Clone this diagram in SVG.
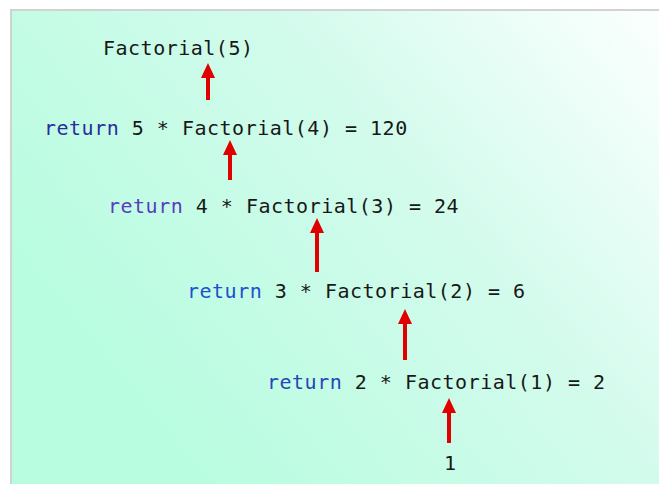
<svg xmlns="http://www.w3.org/2000/svg" width="659" height="484" viewBox="0 0 659 484">
  <defs>
    <linearGradient id="bg" gradientUnits="userSpaceOnUse" x1="150" y1="430" x2="650" y2="20">
      <stop offset="0" stop-color="#b8fde0"/>
      <stop offset="0.55" stop-color="#d2fbec"/>
      <stop offset="1" stop-color="#fafffd"/>
    </linearGradient>
    <marker id="head" viewBox="0 0 15 14" refX="1" refY="7" markerWidth="15" markerHeight="14" markerUnits="userSpaceOnUse" orient="auto">
      <path d="M0,0 L15,7 L0,14 z" fill="#e00000"/>
    </marker>
  </defs>
  <style>
    text { font-family: "DejaVu Sans Mono", "Liberation Mono", monospace; font-size: 20px; letter-spacing: 0.5px; fill: #181818; }
    .arrow { stroke: #e00000; stroke-width: 4; fill: none; marker-end: url(#head); }
  </style>
  <rect x="0" y="0" width="659" height="484" fill="#ffffff"/>
  <rect x="10" y="9" width="649" height="475" fill="url(#bg)"/>
  <path d="M11,484 V10 H659" fill="none" stroke="#d2d2d2" stroke-width="2"/>

  <g id="call5"><text x="103" y="55">Factorial(5)</text></g>
  <g id="ret5"><text x="44" y="135"><tspan fill="#2c2c9c">return</tspan> 5 * Factorial(4) = 120</text></g>
  <g id="ret4"><text x="108" y="213"><tspan fill="#5a3cc0">return</tspan> 4 * Factorial(3) = 24</text></g>
  <g id="ret3"><text x="187" y="298"><tspan fill="#2050d0">return</tspan> 3 * Factorial(2) = 6</text></g>
  <g id="ret2"><text x="267" y="389"><tspan fill="#2846b8">return</tspan> 2 * Factorial(1) = 2</text></g>
  <g id="base"><text x="444" y="470">1</text></g>

  <g id="connectors">
    <line class="arrow" x1="208" y1="100" x2="208" y2="77"/>
    <line class="arrow" x1="230" y1="180" x2="230" y2="154"/>
    <line class="arrow" x1="317" y1="272" x2="317" y2="232"/>
    <line class="arrow" x1="405" y1="360" x2="405" y2="323"/>
    <line class="arrow" x1="449" y1="443" x2="449" y2="412"/>
  </g>
</svg>
